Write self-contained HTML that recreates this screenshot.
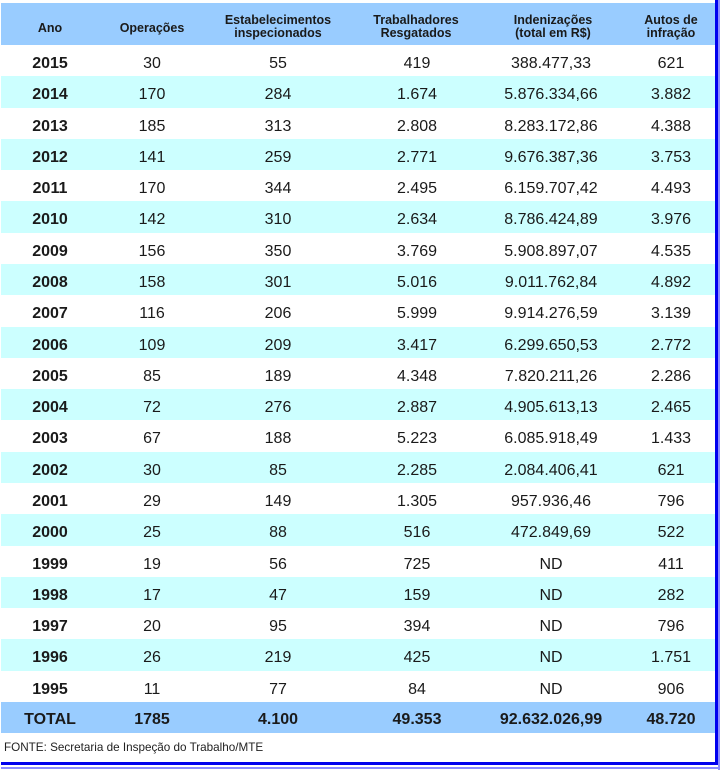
<!DOCTYPE html>
<html><head><meta charset="utf-8">
<style>
html,body{margin:0;padding:0;background:#fff;}
body{width:720px;height:773px;position:relative;overflow:hidden;font-family:"Liberation Sans",Arial,sans-serif;color:#1a1a1a;}
.band{position:absolute;left:1px;width:714px;}
.hdr{background:#99CCFF;}
.cy{background:#CCFFFF;}
.c{position:absolute;width:140px;text-align:center;white-space:nowrap;}
.h{font-weight:bold;font-size:12.5px;line-height:13px;color:#1a1a1a;}
.r{position:absolute;left:0;width:715px;height:31px;font-size:16px;line-height:18px;}
.r span{position:absolute;top:10px;width:140px;text-align:center;white-space:nowrap;}
.r .c0{left:-20px;font-weight:bold;}
.r .c1{left:82px;}
.r .c2{left:208px;}
.r .c3{left:347px;}
.r .c4{left:481px;}
.r .c5{left:601px;}
.t span{font-weight:bold;top:9px;}
</style></head><body>
<div class="band hdr" style="top:3px;height:42px;"></div>
<div class="band cy" style="top:76px;height:32px;"></div>
<div class="band cy" style="top:139px;height:31px;"></div>
<div class="band cy" style="top:201px;height:32px;"></div>
<div class="band cy" style="top:264px;height:31px;"></div>
<div class="band cy" style="top:327px;height:31px;"></div>
<div class="band cy" style="top:389px;height:31px;"></div>
<div class="band cy" style="top:452px;height:31px;"></div>
<div class="band cy" style="top:514px;height:32px;"></div>
<div class="band cy" style="top:577px;height:31px;"></div>
<div class="band cy" style="top:639px;height:32px;"></div>
<div class="band hdr" style="top:702px;height:31px;"></div>

<div class="c h" style="left:-20px;top:22px;">Ano</div>
<div class="c h" style="left:82px;top:22px;">Operações</div>
<div class="c h" style="left:208px;top:14px;">Estabelecimentos<br>inspecionados</div>
<div class="c h" style="left:346px;top:14px;">Trabalhadores<br>Resgatados</div>
<div class="c h" style="left:483px;top:14px;">Indenizações<br>(total em R$)</div>
<div class="c h" style="left:601px;top:14px;">Autos de<br>infração</div>

<div class="r" style="top:45px"><span class="c0">2015</span><span class="c1">30</span><span class="c2">55</span><span class="c3">419</span><span class="c4">388.477,33</span><span class="c5">621</span></div>
<div class="r" style="top:76px"><span class="c0">2014</span><span class="c1">170</span><span class="c2">284</span><span class="c3">1.674</span><span class="c4">5.876.334,66</span><span class="c5">3.882</span></div>
<div class="r" style="top:108px"><span class="c0">2013</span><span class="c1">185</span><span class="c2">313</span><span class="c3">2.808</span><span class="c4">8.283.172,86</span><span class="c5">4.388</span></div>
<div class="r" style="top:139px"><span class="c0">2012</span><span class="c1">141</span><span class="c2">259</span><span class="c3">2.771</span><span class="c4">9.676.387,36</span><span class="c5">3.753</span></div>
<div class="r" style="top:170px"><span class="c0">2011</span><span class="c1">170</span><span class="c2">344</span><span class="c3">2.495</span><span class="c4">6.159.707,42</span><span class="c5">4.493</span></div>
<div class="r" style="top:201px"><span class="c0">2010</span><span class="c1">142</span><span class="c2">310</span><span class="c3">2.634</span><span class="c4">8.786.424,89</span><span class="c5">3.976</span></div>
<div class="r" style="top:233px"><span class="c0">2009</span><span class="c1">156</span><span class="c2">350</span><span class="c3">3.769</span><span class="c4">5.908.897,07</span><span class="c5">4.535</span></div>
<div class="r" style="top:264px"><span class="c0">2008</span><span class="c1">158</span><span class="c2">301</span><span class="c3">5.016</span><span class="c4">9.011.762,84</span><span class="c5">4.892</span></div>
<div class="r" style="top:295px"><span class="c0">2007</span><span class="c1">116</span><span class="c2">206</span><span class="c3">5.999</span><span class="c4">9.914.276,59</span><span class="c5">3.139</span></div>
<div class="r" style="top:327px"><span class="c0">2006</span><span class="c1">109</span><span class="c2">209</span><span class="c3">3.417</span><span class="c4">6.299.650,53</span><span class="c5">2.772</span></div>
<div class="r" style="top:358px"><span class="c0">2005</span><span class="c1">85</span><span class="c2">189</span><span class="c3">4.348</span><span class="c4">7.820.211,26</span><span class="c5">2.286</span></div>
<div class="r" style="top:389px"><span class="c0">2004</span><span class="c1">72</span><span class="c2">276</span><span class="c3">2.887</span><span class="c4">4.905.613,13</span><span class="c5">2.465</span></div>
<div class="r" style="top:420px"><span class="c0">2003</span><span class="c1">67</span><span class="c2">188</span><span class="c3">5.223</span><span class="c4">6.085.918,49</span><span class="c5">1.433</span></div>
<div class="r" style="top:452px"><span class="c0">2002</span><span class="c1">30</span><span class="c2">85</span><span class="c3">2.285</span><span class="c4">2.084.406,41</span><span class="c5">621</span></div>
<div class="r" style="top:483px"><span class="c0">2001</span><span class="c1">29</span><span class="c2">149</span><span class="c3">1.305</span><span class="c4">957.936,46</span><span class="c5">796</span></div>
<div class="r" style="top:514px"><span class="c0">2000</span><span class="c1">25</span><span class="c2">88</span><span class="c3">516</span><span class="c4">472.849,69</span><span class="c5">522</span></div>
<div class="r" style="top:546px"><span class="c0">1999</span><span class="c1">19</span><span class="c2">56</span><span class="c3">725</span><span class="c4">ND</span><span class="c5">411</span></div>
<div class="r" style="top:577px"><span class="c0">1998</span><span class="c1">17</span><span class="c2">47</span><span class="c3">159</span><span class="c4">ND</span><span class="c5">282</span></div>
<div class="r" style="top:608px"><span class="c0">1997</span><span class="c1">20</span><span class="c2">95</span><span class="c3">394</span><span class="c4">ND</span><span class="c5">796</span></div>
<div class="r" style="top:639px"><span class="c0">1996</span><span class="c1">26</span><span class="c2">219</span><span class="c3">425</span><span class="c4">ND</span><span class="c5">1.751</span></div>
<div class="r" style="top:671px"><span class="c0">1995</span><span class="c1">11</span><span class="c2">77</span><span class="c3">84</span><span class="c4">ND</span><span class="c5">906</span></div>
<div class="r t" style="top:702px"><span class="c0">TOTAL</span><span class="c1">1785</span><span class="c2">4.100</span><span class="c3">49.353</span><span class="c4">92.632.026,99</span><span class="c5">48.720</span></div>

<div style="position:absolute;left:4px;top:741px;font-size:11.7px;line-height:14px;color:#222;white-space:nowrap;">FONTE: Secretaria de Inspeção do Trabalho/MTE</div>

<div style="position:absolute;left:715px;top:0;width:3px;height:765px;background:#0000EE;"></div>
<div style="position:absolute;left:718px;top:0;width:2px;height:770px;background:#8C8CFF;"></div>
<div style="position:absolute;left:1px;top:762px;width:717px;height:3px;background:#0000EE;"></div>
<div style="position:absolute;left:1px;top:767px;width:719px;height:2px;background:#8C8CFF;"></div>
</body></html>
